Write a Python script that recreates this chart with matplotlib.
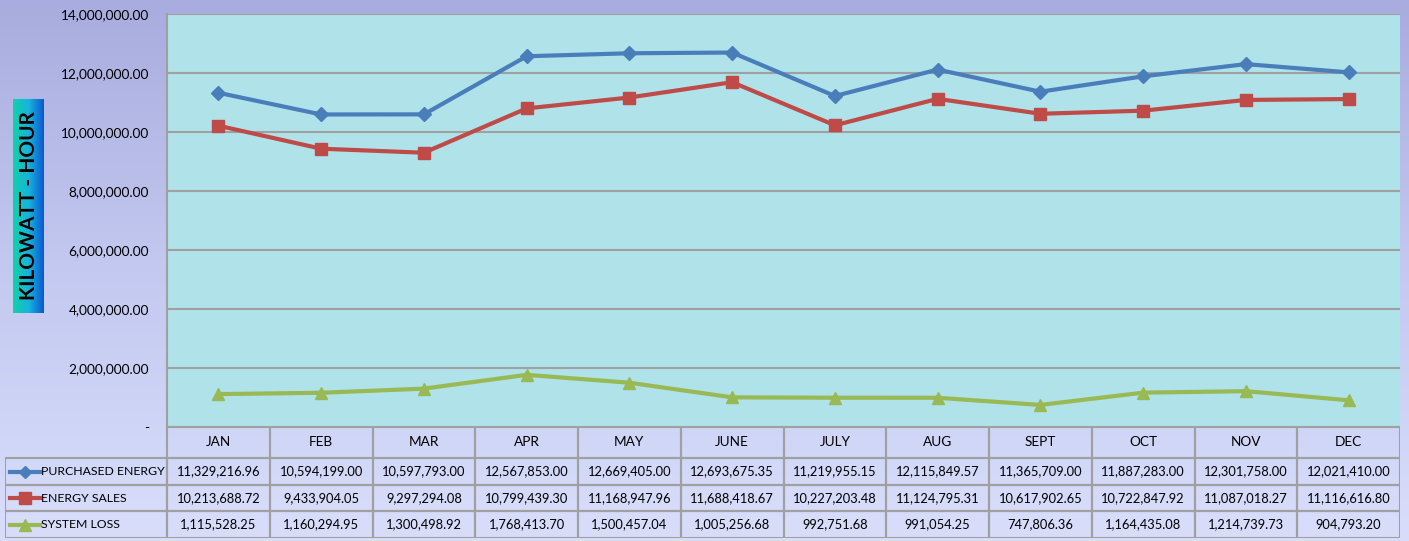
import matplotlib.pyplot as plt
from matplotlib.colors import LinearSegmentedColormap
from matplotlib.lines import Line2D
import numpy as np

months = ["JAN", "FEB", "MAR", "APR", "MAY", "JUNE", "JULY", "AUG", "SEPT", "OCT", "NOV", "DEC"]
purchased = [11329216.96, 10594199.00, 10597793.00, 12567853.00, 12669405.00, 12693675.35,
             11219955.15, 12115849.57, 11365709.00, 11887283.00, 12301758.00, 12021410.00]
sales = [10213688.72, 9433904.05, 9297294.08, 10799439.30, 11168947.96, 11688418.67,
         10227203.48, 11124795.31, 10617902.65, 10722847.92, 11087018.27, 11116616.80]
loss = [1115528.25, 1160294.95, 1300498.92, 1768413.70, 1500457.04, 1005256.68,
        992751.68, 991054.25, 747806.36, 1164435.08, 1214739.73, 904793.20]
series_names = ["PURCHASED ENERGY", "ENERGY SALES", "SYSTEM LOSS"]
yticks = [0, 2000000, 4000000, 6000000, 8000000, 10000000, 12000000, 14000000]

W, H = 1409, 541
plt.rcParams["font.family"] = ["Lato", "DejaVu Sans"]
fs = 9.3
fig = plt.figure(figsize=(W / 100, H / 100), dpi=100)


def fx(px):
    return px / W


def fy(py):
    return 1 - py / H


# figure background gradient
bg = fig.add_axes([0, 0, 1, 1], zorder=-10)
bg_cmap = LinearSegmentedColormap.from_list("bg", ["#a8acde", "#c3c9f0", "#d8defa"])
bg.imshow(np.linspace(0, 1, 256).reshape(-1, 1), aspect="auto", cmap=bg_cmap,
          extent=[0, 1, 0, 1])
bg.axis("off")

# main plot
x0, x1, y0, y1 = 167, 1400, 14, 427
ax = fig.add_axes([fx(x0), fy(y1), fx(x1 - x0), fy(y0) - fy(y1)])
ax.set_facecolor("#b0e2ea")
xs = np.arange(len(months))
styles = [("#4a7ebb", "D", 7), ("#be4b48", "s", 9), ("#98b954", "^", 9)]
for vals, (c, m, ms) in zip([purchased, sales, loss], styles):
    ax.plot(xs, vals, color=c, lw=3, marker=m, markersize=ms, zorder=3)
ax.set_xlim(-0.5, 11.5)
ax.set_ylim(0, 14000000)
ax.set_yticks(yticks)
ax.set_yticklabels(["-" if v == 0 else f"{v:,.2f}" for v in yticks], fontsize=fs + 0.5)
ax.yaxis.grid(True, color="#a0a0a0", lw=1.5)
ax.set_axisbelow(True)
ax.set_xticks([])
ax.tick_params(axis="y", length=0, pad=13)
for s in ax.spines.values():
    s.set_visible(False)
ax.spines["left"].set_visible(True)
ax.spines["left"].set_color("#a0a0a0")
ax.spines["left"].set_linewidth(1.5)

# data table drawn below, aligned with the month columns
colw = (x1 - x0) / 12
tx0 = 5
tax = fig.add_axes([fx(tx0), fy(538), fx(x1 - tx0), fy(427) - fy(538)])
lft = -0.5 - (x0 - tx0) / colw
tax.set_xlim(lft, 11.5)
tax.set_ylim(538, 427)
tax.axis("off")
rows_y = [427, 458, 485, 511, 538]
gc = "#a0a0a0"
# header row
for i, mth in enumerate(months):
    tax.add_patch(plt.Rectangle((i - 0.5, rows_y[0]), 1, rows_y[1] - rows_y[0],
                                fill=False, ec=gc, lw=1.5))
    tax.text(i, (rows_y[0] + rows_y[1]) / 2, mth, ha="center", va="center", fontsize=fs + 0.5)
for r, (name, vals, (c, m, ms)) in enumerate(zip(series_names, [purchased, sales, loss], styles)):
    ya, yb = rows_y[r + 1], rows_y[r + 2]
    yc = (ya + yb) / 2
    tax.add_patch(plt.Rectangle((lft, ya), -0.5 - lft, yb - ya, fill=False, ec=gc, lw=1.5))
    tax.add_line(Line2D([lft + 0.05, lft + 0.34], [yc, yc], color=c, lw=3))
    tax.plot([lft + 0.195], [yc], marker=m, color=c, markersize=ms * 0.9)
    tax.text(lft + 0.35, yc, name, ha="left", va="center", fontsize=fs - 0.5)
    for i, v in enumerate(vals):
        tax.add_patch(plt.Rectangle((i - 0.5, ya), 1, yb - ya, fill=False, ec=gc, lw=1.5))
        tax.text(i, yc, f"{v:,.2f}", ha="center", va="center", fontsize=fs)

# y label box with gradient
lab = fig.add_axes([fx(13), fy(313), fx(31), fy(99) - fy(313)])
lab_cmap = LinearSegmentedColormap.from_list("lab", ["#0fd2a8", "#18b4dc", "#0c58d2"])
lab.imshow(np.linspace(0, 1, 256).reshape(1, -1), aspect="auto", cmap=lab_cmap,
           extent=[0, 1, 0, 1])
lab.axis("off")
lab.text(0.52, 0.5, "KILOWATT - HOUR", rotation=90, ha="center", va="center",
         fontsize=15, fontweight="bold", transform=lab.transAxes)

fig.savefig("out.png", dpi=100)
